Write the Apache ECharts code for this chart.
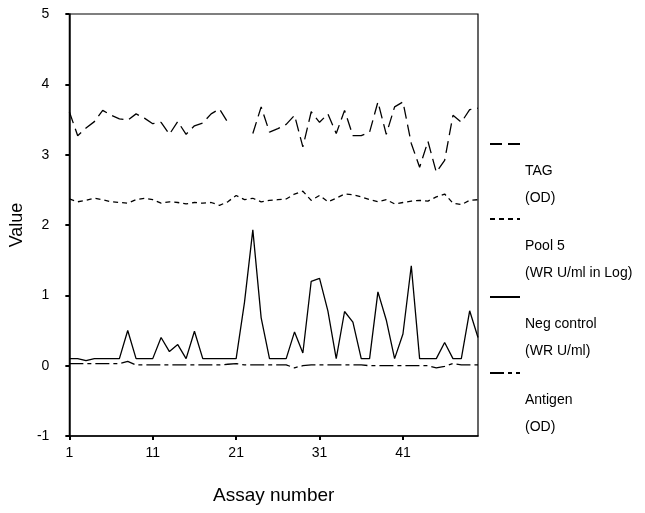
<!DOCTYPE html>
<html>
<head>
<meta charset="utf-8">
<script src="https://cdn.jsdelivr.net/npm/echarts@6/dist/echarts.min.js"></script>
<style>
html,body{margin:0;padding:0;background:#fff;}
#chart{width:645px;height:513px;}
</style>
</head>
<body>
<div id="chart"></div>
<script>
var assays = [];
for (var i = 1; i <= 50; i++) assays.push(i);

var tag = [3.61,3.27,3.38,3.47,3.63,3.56,3.51,3.49,3.58,3.52,3.44,3.46,3.29,3.47,3.29,3.41,3.45,3.58,3.65,3.46,null,null,3.30,3.68,3.32,3.37,3.43,3.56,3.11,3.61,3.46,3.58,3.30,3.63,3.27,3.27,3.32,3.75,3.29,3.68,3.75,3.16,2.82,3.19,2.75,2.92,3.56,3.46,3.64,3.66];
var pool5 = [2.37,2.33,2.35,2.38,2.36,2.33,2.32,2.31,2.36,2.38,2.36,2.31,2.33,2.32,2.30,2.32,2.31,2.32,2.28,2.33,2.42,2.36,2.38,2.33,2.35,2.36,2.37,2.44,2.48,2.35,2.42,2.33,2.38,2.44,2.43,2.40,2.36,2.33,2.36,2.30,2.32,2.34,2.35,2.34,2.40,2.44,2.31,2.29,2.35,2.36];
var negControl = [0.1,0.1,0.07,0.1,0.1,0.1,0.1,0.5,0.1,0.1,0.1,0.4,0.2,0.3,0.1,0.49,0.1,0.1,0.1,0.1,0.1,0.9,1.93,0.68,0.1,0.1,0.1,0.48,0.18,1.2,1.24,0.78,0.1,0.77,0.62,0.1,0.1,1.05,0.65,0.1,0.45,1.42,0.1,0.1,0.1,0.33,0.1,0.1,0.78,0.4];
var antigen = [0.03,0.03,0.03,0.03,0.03,0.03,0.03,0.06,0.01,0.01,0.01,0.01,0.01,0.01,0.01,0.01,0.01,0.01,0.01,0.02,0.03,0.01,0.01,0.01,0.01,0.01,0.01,-0.03,0.0,0.01,0.01,0.01,0.01,0.01,0.01,0.01,0.0,0.0,0.0,0.0,0.0,0.0,0.0,0.0,-0.03,-0.01,0.03,0.01,0.01,0.01];

var seriesNames = ['TAG','Pool 5','Neg control','Antigen'];
var legendSub = ['(OD)','(WR U/ml in Log)','(WR U/ml)','(OD)'];
var xTickLabels = ['1','11','21','31','41'];
var yTickLabels = ['-1','0','1','2','3','4','5'];

function pairs(vals){
  return assays.map(function(a, i){ return [a, vals[i]]; });
}

var lineStyles = [
  {type:[12,6], width:1.3},
  {type:[5,4], width:1.3},
  {type:'solid', width:1.3},
  {type:[14,4,4,4], width:1.3}
];
var allData = [tag, pool5, negControl, antigen];
var legendIconY = [144, 219, 297, 373];

var chart = echarts.init(document.getElementById('chart'), null, {renderer:'canvas'});
var font = 'Liberation Sans, Arial, sans-serif';

var series = seriesNames.map(function(n, i){
  return {
    name: n, type: 'line', data: pairs(allData[i]), symbol: 'none',
    connectNulls: false, silent: true, animation: false,
    itemStyle: {color:'#000'},
    lineStyle: Object.assign({color:'#000'}, lineStyles[i])
  };
});

var legends = seriesNames.map(function(n, i){
  return {
    data: [n], orient: 'vertical', left: 489, top: legendIconY[i] - 67.5,
    padding: 0, itemWidth: 30, itemHeight: 14, selectedMode: false,
    itemStyle: {opacity: 0},
    formatter: function(name){ return '\n\n\n' + name + '\n' + legendSub[seriesNames.indexOf(name)]; },
    textStyle: {fontFamily: font, fontSize: 14, color:'#000', lineHeight: 27}
  };
});

chart.setOption({
  animation: false,
  backgroundColor: '#fff',
  grid: {left: 67, right: 167, top: 14, bottom: 77, show: true, borderColor: '#000', borderWidth: 1.2},
  legend: legends,
  xAxis: {
    type: 'value', min: 1, max: 50, interval: 10,
    name: 'Assay number', nameLocation: 'middle', nameGap: 50,
    nameTextStyle: {fontFamily: font, fontSize: 19, color:'#000'},
    axisLine: {show: true, onZero: false, lineStyle: {color:'#000', width: 1.5}},
    axisTick: {show: true, length: 4, lineStyle: {color:'#000', width: 2}},
    axisLabel: {fontFamily: font, fontSize: 14, color:'#000', margin: 10, showMaxLabel: false,
      formatter: function(v){ var s = String(v); return xTickLabels.indexOf(s) >= 0 ? s : ''; }},
    splitLine: {show: false}
  },
  yAxis: {
    type: 'value', min: -1, max: 5, interval: 1,
    name: 'Value', nameLocation: 'middle', nameGap: 40,
    nameTextStyle: {fontFamily: font, fontSize: 18, color:'#000'},
    axisLine: {show: true, onZero: false, lineStyle: {color:'#000', width: 1.5}},
    axisTick: {show: true, length: 4, lineStyle: {color:'#000', width: 2}},
    axisLabel: {fontFamily: font, fontSize: 14, color:'#000', margin: 20,
      formatter: function(v){ var s = String(v); return yTickLabels.indexOf(s) >= 0 ? s : ''; }},
    splitLine: {show: false}
  },
  series: series
});
</script>
</body>
</html>
